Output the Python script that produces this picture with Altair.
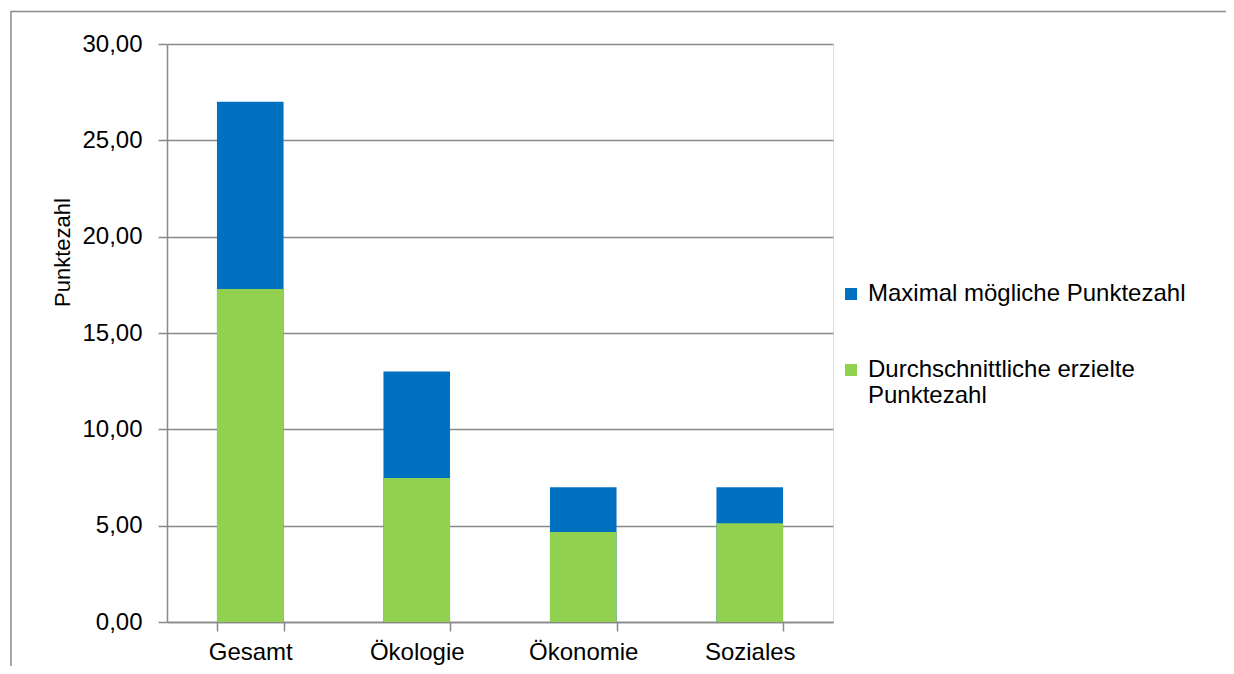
import altair as alt
import pandas as pd

categories = ["Gesamt", "Ökologie", "Ökonomie", "Soziales"]
max_points = [27.0, 13.0, 7.0, 7.0]
avg_points = [17.28, 7.47, 4.67, 5.12]
series_names = ["Maximal mögliche Punktezahl", "Durchschnittliche erzielte Punktezahl"]
series_colors = ["#0070C0", "#92D050"]

df_max = pd.DataFrame({"Kategorie": categories, "Wert": max_points, "Serie": series_names[0]})
df_avg = pd.DataFrame({"Kategorie": categories, "Wert": avg_points, "Serie": series_names[1]})

FONT = "Liberation Sans"
GRID = "#898989"

x_enc = alt.X(
    "Kategorie:N",
    sort=categories,
    scale=alt.Scale(paddingInner=0.6, paddingOuter=0.3),
    axis=alt.Axis(
        title=None, labelAngle=0, tickBand="extent", tickSize=9, labelPadding=9,
        labelFontSize=24, labelFont=FONT, labelColor="#000000",
        domainColor=GRID, tickColor=GRID, domainWidth=1.5, tickWidth=1.5, grid=False,
    ),
)
y_enc = alt.Y(
    "Wert:Q",
    stack=None,
    scale=alt.Scale(domain=[0, 30], nice=False),
    axis=alt.Axis(
        title="Punktezahl", values=[0, 5, 10, 15, 20, 25, 30],
        labelExpr="replace(format(datum.value, '.2f'), '.', ',')",
        labelFontSize=24, labelFont=FONT, labelColor="#000000", labelPadding=16,
        tickSize=9, tickColor=GRID, domainColor=GRID, gridColor=GRID,
        domainWidth=1.5, tickWidth=1.5, gridWidth=1.5,
        titleFontSize=22, titleFont=FONT, titleFontWeight="normal", titleColor="#000000",
        titleX=-105, titleY=208, titleAlign="center", titleBaseline="middle", titleAngle=-90,
    ),
)
color_enc = alt.Color(
    "Serie:N",
    scale=alt.Scale(domain=series_names, range=series_colors),
    legend=alt.Legend(
        title=None, orient="none", legendX=672, legendY=238,
        symbolType="square", symbolSize=144, symbolStrokeWidth=0,
        labelFontSize=24, labelFont=FONT, labelColor="#000000", labelLimit=450,
        rowPadding=52, labelOffset=5,
        labelExpr="datum.label == 'Durchschnittliche erzielte Punktezahl' ? ['Durchschnittliche erzielte', 'Punktezahl'] : datum.label",
    ),
)

bars_max = alt.Chart(df_max).mark_bar().encode(x=x_enc, y=y_enc, color=color_enc)
bars_avg = alt.Chart(df_avg).mark_bar().encode(x=x_enc, y=y_enc, color=color_enc)

frame = alt.Chart(pd.DataFrame({"a": [0]})).mark_rect(
    fill="transparent", stroke="#8c8c8c", strokeWidth=1.5
).encode(
    x=alt.value(-156), x2=alt.value(1200), y=alt.value(-32.5), y2=alt.value(900)
)

chart = alt.layer(frame, bars_max, bars_avg).properties(
    width=666, height=578,
    padding={"left": 159, "top": 36, "right": 393, "bottom": 44},
    autosize=alt.AutoSizeParams(type="none"),
).configure_view(stroke=None).configure(font=FONT)

chart.save("out.html", embed_options={"renderer": "svg", "actions": False})
